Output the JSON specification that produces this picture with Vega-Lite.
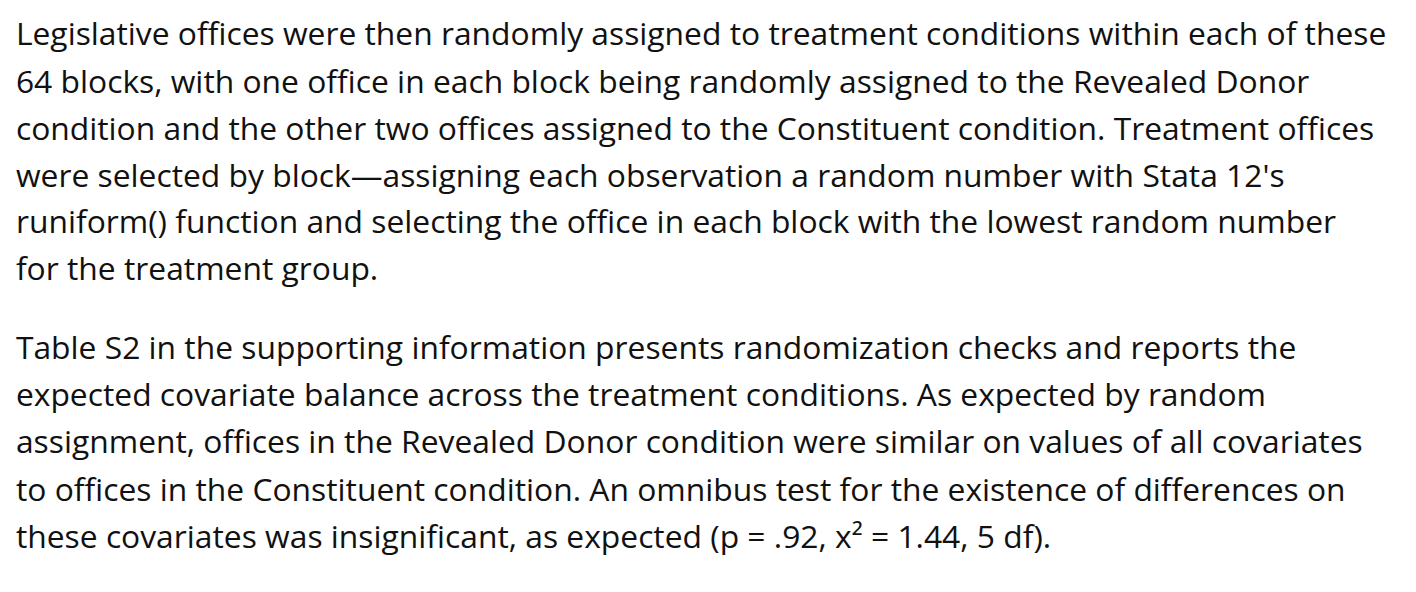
{
  "$schema": "https://vega.github.io/schema/vega-lite/v6.json",
  "width": 1416,
  "height": 592,
  "autosize": {"type": "fit", "contains": "padding"},
  "background": "white",
  "config": {"view": {"stroke": null}},
  "data": {
    "values": [
      {"row": 31, "col": 11, "text": "Legislative offices were then randomly assigned to treatment conditions within each of these"},
      {"row": 79, "col": 11, "text": "64 blocks, with one office in each block being randomly assigned to the Revealed Donor"},
      {"row": 127, "col": 11, "text": "condition and the other two offices assigned to the Constituent condition. Treatment offices"},
      {"row": 175, "col": 11, "text": "were selected by block—assigning each observation a random number with Stata 12's"},
      {"row": 222, "col": 11, "text": "runiform() function and selecting the office in each block with the lowest random number"},
      {"row": 270, "col": 11, "text": "for the treatment group."},
      {"row": 350, "col": 11, "text": "Table S2 in the supporting information presents randomization checks and reports the"},
      {"row": 398, "col": 11, "text": "expected covariate balance across the treatment conditions. As expected by random"},
      {"row": 446, "col": 11, "text": "assignment, offices in the Revealed Donor condition were similar on values of all covariates"},
      {"row": 494, "col": 11, "text": "to offices in the Constituent condition. An omnibus test for the existence of differences on"},
      {"row": 542, "col": 11, "text": "these covariates was insignificant, as expected (p = .92, x² = 1.44, 5 df)."}
    ]
  },
  "mark": {"type": "text", "align": "left", "baseline": "middle", "font": "Open Sans", "fontSize": 31.8, "color": "#111"},
  "encoding": {
    "x": {"field": "col", "type": "quantitative", "scale": {"domain": [0, 1416]}, "axis": null},
    "y": {"field": "row", "type": "quantitative", "scale": {"domain": [592, 0]}, "axis": null},
    "text": {"field": "text"}
  }
}
